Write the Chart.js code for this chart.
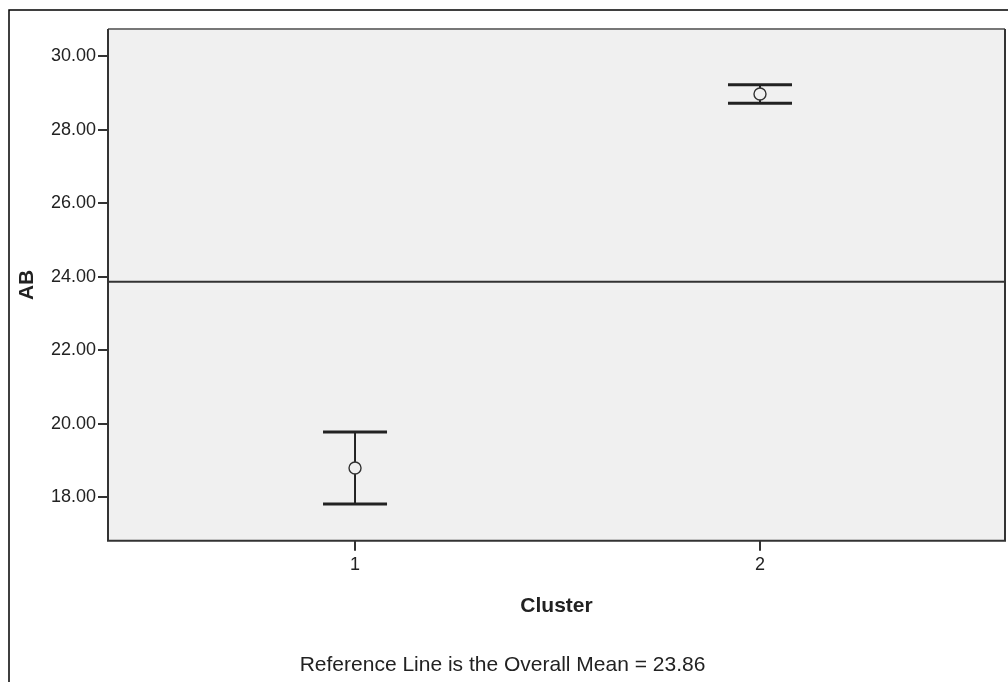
<!DOCTYPE html>
<html>
<head>
<meta charset="utf-8">
<title>AB by Cluster</title>
<script src="https://cdn.jsdelivr.net/npm/chart.js@4.4.1/dist/chart.umd.min.js"></script>
<style>
  body { margin: 0; background: #fff; }
  canvas { display: block; }
</style>
</head>
<body>
<canvas id="chart" width="1008" height="682"></canvas>
<script>
// values
const clusters = [1, 2]
const means = [18.79, 28.97]
const lower = [17.81, 28.72]
const upper = [19.77, 29.22]
const overallMean = 23.86
const yTicks = [18, 20, 22, 24, 26, 28, 30]

const fontFamily = '"Liberation Sans", Arial, sans-serif'
const plotBg = '#f0f0f0'
const ink = '#222'

// white page, outer frame, grey plot area
const background = {
  id: 'background',
  beforeDraw(chart) {
    const {ctx, chartArea: a} = chart
    ctx.save()
    ctx.fillStyle = '#fff'
    ctx.fillRect(0, 0, chart.width, chart.height)
    ctx.strokeStyle = '#000'
    ctx.lineWidth = 1.5
    ctx.beginPath()
    ctx.moveTo(9, chart.height)
    ctx.lineTo(9, 10)
    ctx.lineTo(chart.width, 10)
    ctx.stroke()
    ctx.fillStyle = plotBg
    ctx.fillRect(a.left, a.top, a.right - a.left, a.bottom - a.top)
    ctx.restore()
  }
}

// reference line, error bars and frame of the plot area
const errorBars = {
  id: 'errorBars',
  beforeDatasetsDraw(chart) {
    const {ctx, chartArea: a, scales: {x, y}} = chart
    ctx.save()
    ctx.strokeStyle = '#777'
    ctx.lineWidth = 2
    ctx.beginPath()
    ctx.moveTo(a.left, a.top)
    ctx.lineTo(a.right, a.top)
    ctx.stroke()
    ctx.strokeStyle = '#333'
    ctx.beginPath()
    ctx.moveTo(a.right, a.top)
    ctx.lineTo(a.right, a.bottom)
    ctx.lineTo(a.left, a.bottom)
    ctx.lineTo(a.left, a.top)
    ctx.stroke()

    const yRef = y.getPixelForValue(overallMean)
    ctx.strokeStyle = '#333'
    ctx.lineWidth = 2
    ctx.beginPath()
    ctx.moveTo(a.left, yRef)
    ctx.lineTo(a.right, yRef)
    ctx.stroke()

    clusters.forEach((c, i) => {
      const px = x.getPixelForValue(c)
      const yHi = y.getPixelForValue(upper[i])
      const yLo = y.getPixelForValue(lower[i])
      ctx.strokeStyle = ink
      ctx.lineWidth = 2
      ctx.beginPath()
      ctx.moveTo(px, yHi)
      ctx.lineTo(px, yLo)
      ctx.stroke()
      ctx.lineWidth = 3
      ctx.beginPath()
      ctx.moveTo(px - 32, yHi)
      ctx.lineTo(px + 32, yHi)
      ctx.moveTo(px - 32, yLo)
      ctx.lineTo(px + 32, yLo)
      ctx.stroke()
    })
    ctx.restore()
  }
}

new Chart(document.getElementById('chart'), {
  type: 'scatter',
  data: {
    datasets: [{
      label: 'Mean AB',
      data: clusters.map((c, i) => ({x: c, y: means[i]})),
      pointRadius: 6,
      pointBorderWidth: 1.4,
      pointBorderColor: '#333',
      pointBackgroundColor: plotBg
    }]
  },
  options: {
    responsive: false,
    animation: false,
    devicePixelRatio: 1,
    layout: {autoPadding: false, padding: {top: 29, right: 3, left: 0, bottom: 0}},
    plugins: {
      legend: {display: false},
      tooltip: {enabled: false},
      subtitle: {
        display: true,
        position: 'bottom',
        text: 'Reference Line is the Overall Mean = ' + overallMean.toFixed(2),
        color: ink,
        font: {family: fontFamily, size: 21, weight: 'normal'},
        padding: {top: 10, bottom: 4}
      }
    },
    scales: {
      x: {
        type: 'linear',
        min: 0.39,
        max: 2.605,
        afterBuildTicks: s => { s.ticks = clusters.map(v => ({value: v})) },
        afterFit: s => { s.height = 102 },
        ticks: {
          color: ink,
          padding: 3,
          font: {family: fontFamily, size: 18},
          callback: v => String(v)
        },
        grid: {drawOnChartArea: false, drawTicks: true, tickLength: 10, color: '#333', lineWidth: 2},
        border: {display: false},
        title: {
          display: true,
          text: 'Cluster',
          color: ink,
          font: {family: fontFamily, size: 21, weight: 'bold'},
          padding: {top: 0, bottom: 24}
        }
      },
      y: {
        min: 16.81,
        max: 30.74,
        afterBuildTicks: s => { s.ticks = yTicks.map(v => ({value: v})) },
        afterFit: s => { s.width = 108 },
        ticks: {
          color: ink,
          padding: 2,
          font: {family: fontFamily, size: 18},
          callback: v => Number(v).toFixed(2)
        },
        grid: {drawOnChartArea: false, drawTicks: true, tickLength: 10, color: '#333', lineWidth: 2},
        border: {display: false},
        title: {
          display: true,
          text: 'AB',
          color: ink,
          font: {family: fontFamily, size: 21, weight: 'bold'},
          padding: {top: 15, bottom: 0}
        }
      }
    }
  },
  plugins: [background, errorBars]
})
</script>
</body>
</html>
